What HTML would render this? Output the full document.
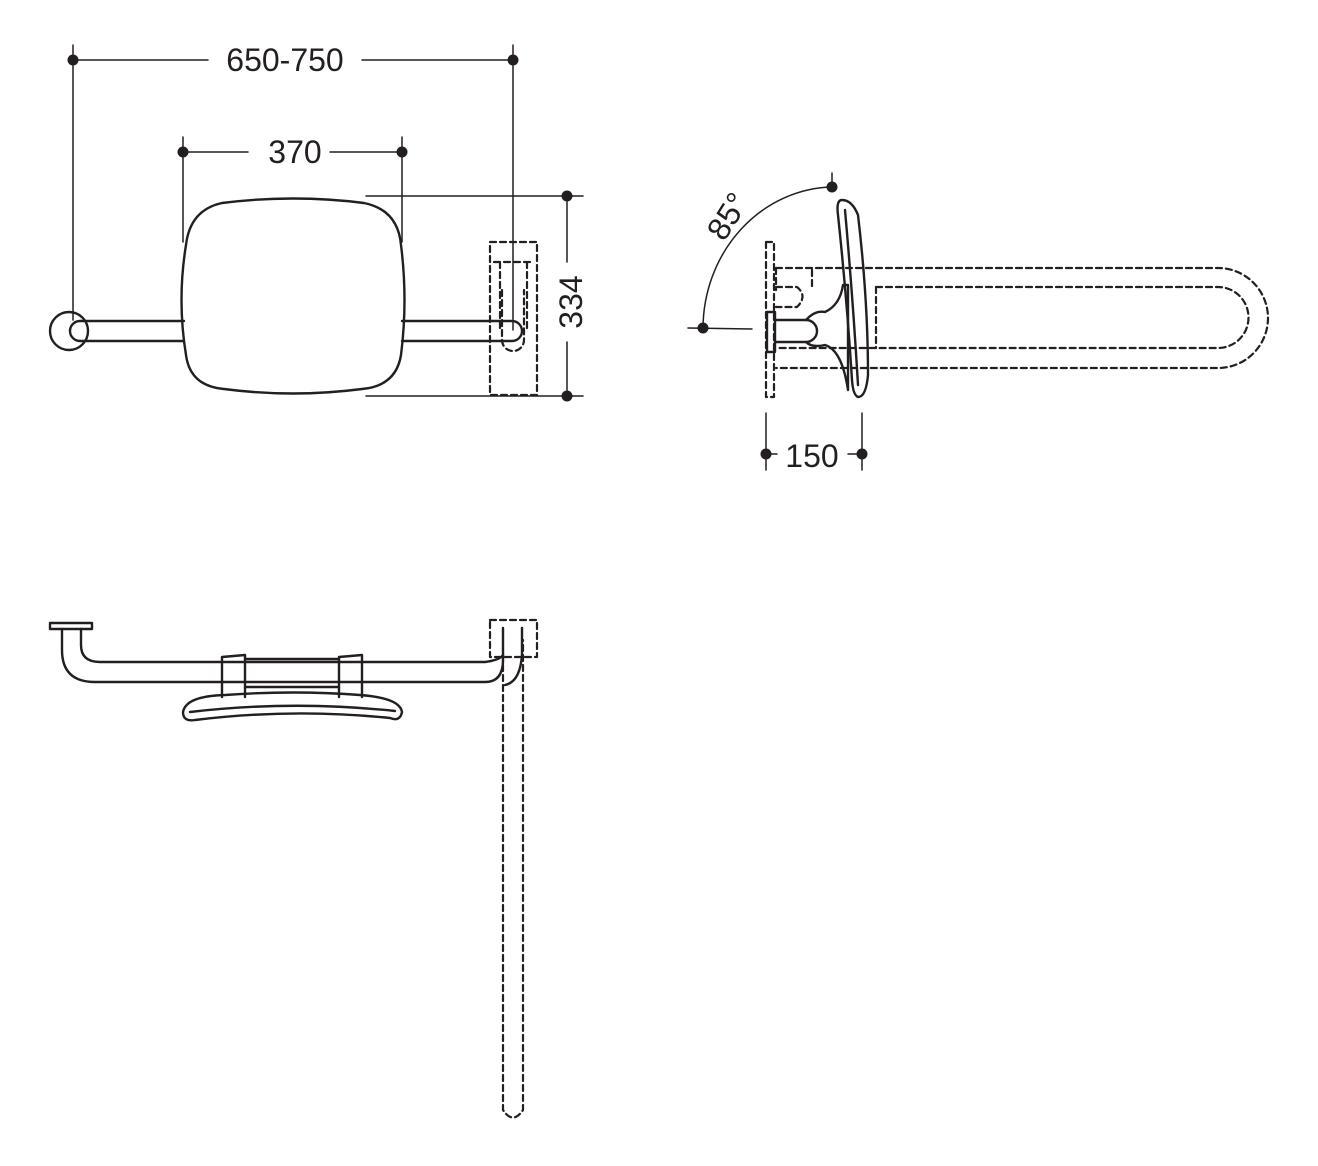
<!DOCTYPE html>
<html><head><style>html,body{margin:0;padding:0;background:#fff}svg{display:block}</style></head>
<body>
<svg width="1318" height="1166" viewBox="0 0 1318 1166" xmlns="http://www.w3.org/2000/svg" font-family="Liberation Sans, sans-serif">
<g fill="none" stroke="#231f20" stroke-width="2.4" stroke-linecap="round" stroke-linejoin="round">
<g stroke-width="1.5">
<line x1="73" y1="45" x2="73" y2="320"/>
<line x1="513" y1="45" x2="513" y2="330"/>
<line x1="73" y1="60" x2="208" y2="60"/>
<line x1="362" y1="60" x2="513" y2="60"/>
<line x1="183" y1="137" x2="183" y2="242"/>
<line x1="402" y1="137" x2="402" y2="242"/>
<line x1="183" y1="152" x2="248" y2="152"/>
<line x1="330" y1="152" x2="402" y2="152"/>
<line x1="366" y1="196" x2="583" y2="196"/>
<line x1="366" y1="396" x2="583" y2="396"/>
<line x1="567" y1="196" x2="567" y2="262"/>
<line x1="567" y1="342" x2="567" y2="396"/>
</g>
<path d="M222 203 Q293 194 364 203 Q398 210 401 245 Q408 300 401 355 Q396 386 362 389 Q293 398 224 389 Q190 386 186 355 Q177 300 186 245 Q190 210 222 203 Z"/>
<path d="M80 321 L184 321 M80 341 L184 341 M402 321 L512 321 A10 10 0 0 1 512 341 L402 341"/>
<circle cx="69" cy="331" r="19"/>
<path d="M80 321 A10 10 0 1 0 80 341"/>
<g stroke-dasharray="6 4" stroke-width="2.2">
<rect x="490" y="242" width="47" height="153"/>
<path d="M494 262 L531 262 M500 262 L500 330 M527 262 L527 330 M502 290 L502 340 A11 11 0 0 0 524 340 L524 290"/>
</g>
<g stroke-width="1.5">
<line x1="832" y1="173" x2="832" y2="187"/>
<line x1="688" y1="328" x2="752" y2="329"/>
<path d="M703 328 A132 142 0 0 1 832 187"/>
<line x1="766" y1="413" x2="766" y2="470"/>
<line x1="862" y1="413" x2="862" y2="470"/>
<line x1="766" y1="454" x2="777" y2="454"/>
<line x1="848" y1="454" x2="862" y2="454"/>
</g>
<g stroke-dasharray="6 4" stroke-width="2.2">
<rect x="766" y="242" width="8" height="155"/>
<path d="M776 268 L1218 268 A50 50 0 0 1 1218 368 L776 368"/>
<path d="M876 287 L1218 287 A30.5 30.5 0 0 1 1218 348 L776 348"/>
<path d="M776 287 L797 287 Q808 296 797 307 L776 307 M812 270 L812 287 M776 268 L776 290"/>
<path d="M876 287 L876 348"/>
</g>
<rect x="767" y="312" width="8" height="40"/>
<path d="M775 320 L806 320 A11 11 0 0 1 806 342 L775 342"/>
<path d="M806 320 Q815 310 825 312 Q840 305 843 285 L848 285 L848 390 Q842 350 825 345 Q812 348 806 342"/>
<path d="M842 200 Q852 200 858 215 Q868 300 868 375 Q866 397 858 397 Q853 395 852 380 Q847 300 838 215 Q836 200 842 200 Z"/>
<path d="M845 210 Q853 300 858 385"/>
<rect x="50" y="623" width="42" height="6"/>
<path d="M62 629 L62 650 Q62 682 95 682 L485 682 Q503 682 503 660 L503 628"/>
<path d="M81 629 L81 645 Q81 662 100 662 L485 662 Q500 660 503 655 M522 628 L522 655 Q520 682 505 685"/>
<path d="M245 659 L339 659 M245 687 L339 687"/>
<path d="M222 657 L245 655 L245 697 M222 657 L222 697 M339 657 L362 655 L362 697 M339 657 L339 697"/>
<path d="M183 712 Q186 696 225 695 Q293 690 360 695 Q400 698 402 712 Q400 722 390 718 Q293 708 195 720 Q183 722 183 712 Z"/>
<path d="M190 712 Q293 700 395 711"/>
<g stroke-dasharray="6 4" stroke-width="2.2">
<rect x="490" y="620" width="47" height="37"/>
<path d="M503 655 L503 1110 Q513 1125 523 1110 L523 640"/>
</g>
</g>
<g fill="#231f20">
<circle cx="73" cy="60" r="5.5"/><circle cx="513" cy="60" r="5.5"/>
<circle cx="183" cy="152" r="5.5"/><circle cx="402" cy="152" r="5.5"/>
<circle cx="567" cy="196" r="5.5"/><circle cx="567" cy="396" r="5.5"/>
<circle cx="832" cy="187" r="5.5"/><circle cx="703" cy="328" r="5.5"/>
<circle cx="766" cy="454" r="5.5"/><circle cx="862" cy="454" r="5.5"/>
</g>
<g fill="#231f20" font-size="32">
<text x="285" y="71" text-anchor="middle">650-750</text>
<text x="295" y="163" text-anchor="middle">370</text>
<text x="812" y="467" text-anchor="middle">150</text>
<text transform="translate(582,302) rotate(-90)" text-anchor="middle">334</text>
<text transform="translate(737,222) rotate(-58)" text-anchor="middle">85°</text>
</g>
</svg>
</body></html>
